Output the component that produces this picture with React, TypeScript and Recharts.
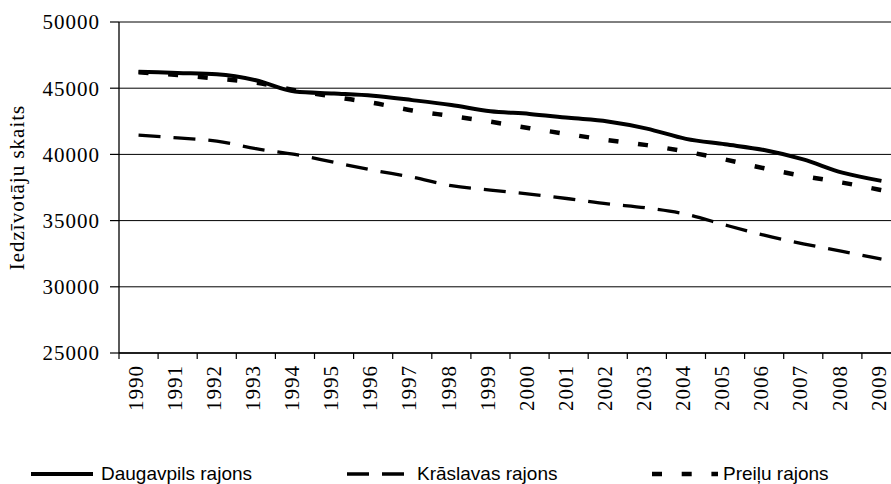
import { CartesianGrid, Legend, Line, LineChart, XAxis, YAxis } from "recharts";

const years = [
  "1990", "1991", "1992", "1993", "1994", "1995", "1996", "1997", "1998", "1999",
  "2000", "2001", "2002", "2003", "2004", "2005", "2006", "2007", "2008", "2009",
];

const daugavpils = [
  46250, 46150, 46050, 45600, 44750, 44600, 44430, 44100, 43730, 43260,
  43060, 42760, 42490, 41950, 41170, 40760, 40330, 39620, 38620, 38000,
];

const kraslavas = [
  41450, 41250, 41000, 40430, 40000, 39400, 38800, 38280, 37640, 37300,
  37000, 36650, 36270, 35960, 35490, 34670, 33900, 33250, 32680, 32090,
];

const preilu = [
  46200, 46000, 45730, 45420, 44850, 44350, 43890, 43320, 42900, 42470,
  41980, 41520, 41080, 40700, 40210, 39620, 38950, 38370, 37870, 37300,
];

const yTicks = [25000, 30000, 35000, 40000, 45000, 50000];
const yTitle = "Iedzīvotāju skaits";

// x = category centre on a 0..N numeric axis, so tick marks can sit between years
const data = years.map((year, i) => ({
  x: i + 0.5,
  year,
  daugavpils: daugavpils[i],
  kraslavas: kraslavas[i],
  preilu: preilu[i],
}));

const boundaryTicks = [...years.map((_, i) => i), years.length];

const series = [
  { key: "daugavpils", name: "Daugavpils rajons", width: 4, dash: undefined, legendLeft: 31, sample: 62, gap: 8 },
  { key: "kraslavas", name: "Krāslavas rajons", width: 3.3, dash: "22 13", legendLeft: 347, sample: 57, gap: 13 },
  { key: "preilu", name: "Preiļu rajons", width: 4.5, dash: "10 19.7", legendLeft: 652, sample: 66, gap: 5 },
];

const SERIF = "Liberation Serif, Times New Roman, serif";
const SANS = "Liberation Sans, Arial, sans-serif";

// labels sit half a band to the right of each boundary tick
function YearTick({ x, y, index, width }: any) {
  if (index >= years.length) return null;
  const cx = x + width / years.length / 2;
  return (
    <text
      x={cx}
      y={y}
      transform={`rotate(-90, ${cx}, ${y})`}
      textAnchor="end"
      dy="0.2em"
      style={{ fontFamily: SERIF, fontSize: 21, letterSpacing: 1 }}
      fill="#000"
    >
      {years[index]}
    </text>
  );
}

function ValueTick({ x, y, payload }: any) {
  return (
    <text x={x} y={y} textAnchor="end" dy="0.35em" style={{ fontFamily: SERIF, fontSize: 21, letterSpacing: 1 }} fill="#000">
      {payload.value}
    </text>
  );
}

function YTitle({ viewBox }: any) {
  const cx = (viewBox?.x ?? 0) + 24;
  const cy = (viewBox?.y ?? 22) + (viewBox?.height ?? 331) / 2;
  return (
    <text
      x={cx}
      y={cy}
      transform={`rotate(-90, ${cx}, ${cy})`}
      textAnchor="middle"
      style={{ fontFamily: SERIF, fontSize: 21, letterSpacing: 1 }}
      fill="#000"
    >
      {yTitle}
    </text>
  );
}

function ChartLegend() {
  return (
    <div style={{ position: "relative", width: 891, height: 30 }}>
      {series.map((s) => (
        <div
          key={s.key}
          style={{ position: "absolute", left: s.legendLeft, top: 10, height: 20, display: "flex", alignItems: "center" }}
        >
          <svg width={s.sample} height={10} style={{ display: "block" }}>
            <line x1={0} y1={5} x2={s.sample} y2={5} stroke="#000" strokeWidth={s.width} strokeDasharray={s.dash} />
          </svg>
          <span
            style={{ marginLeft: s.gap, fontFamily: SANS, fontSize: 19, lineHeight: "20px", color: "#000", whiteSpace: "nowrap" }}
          >
            {s.name}
          </span>
        </div>
      ))}
    </div>
  );
}

export default function App() {
  return (
    <div style={{ position: "absolute", left: 0, top: 0, width: 891, height: 484, overflow: "hidden", background: "#fff" }}>
      <LineChart width={901} height={484} data={data} margin={{ top: 22, right: 0, bottom: 0, left: 0 }}>
        <CartesianGrid vertical={false} stroke="#000" strokeWidth={1} />
        <XAxis
          type="number"
          dataKey="x"
          domain={[0, years.length]}
          ticks={boundaryTicks}
          interval={0}
          height={101}
          tickSize={6}
          tickMargin={6}
          tick={<YearTick />}
          axisLine={{ stroke: "#000", strokeWidth: 1.3 }}
          tickLine={{ stroke: "#000", strokeWidth: 1.2 }}
        />
        <YAxis
          type="number"
          domain={[25000, 50000]}
          ticks={yTicks}
          interval={0}
          width={119}
          tickSize={9}
          tickMargin={10}
          axisLine={{ stroke: "#000", strokeWidth: 1.3 }}
          tickLine={{ stroke: "#000", strokeWidth: 1.2 }}
          tick={<ValueTick />}
          label={{ position: "insideLeft", content: (props: any) => <YTitle {...props} /> }}
        />
        <Legend
          verticalAlign="bottom"
          wrapperStyle={{ left: 0, bottom: 0, width: 891, height: 30 }}
          content={() => <ChartLegend />}
        />
        {series.map((s) => (
          <Line
            key={s.key}
            type="monotone"
            dataKey={s.key}
            name={s.name}
            stroke="#000"
            strokeWidth={s.width}
            strokeDasharray={s.dash}
            dot={false}
            activeDot={false}
            isAnimationActive={false}
          />
        ))}
      </LineChart>
    </div>
  );
}
